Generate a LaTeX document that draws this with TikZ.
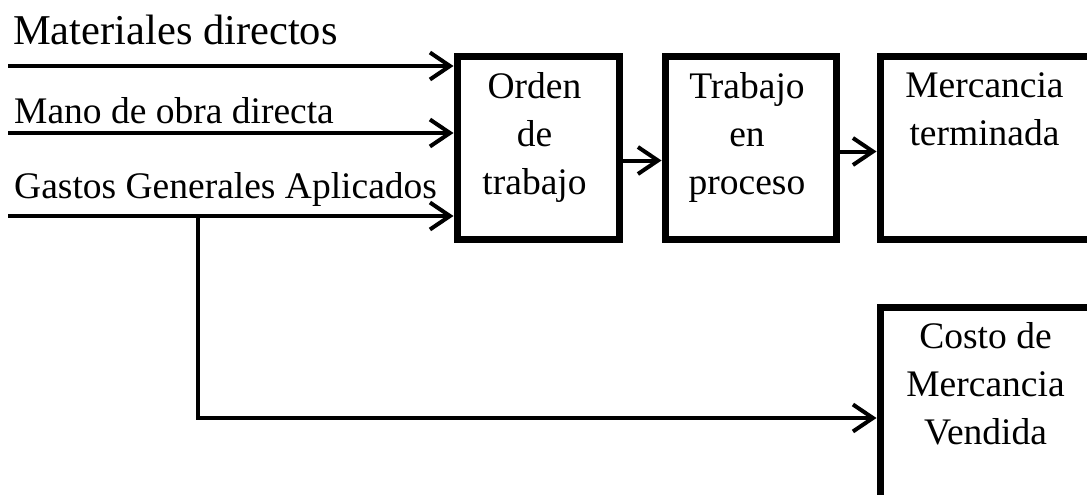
\documentclass[tikz,border=0pt]{standalone}
\usepackage{fontspec}
\setmainfont{Liberation Serif}
\usetikzlibrary{arrows.meta,calc}
\begin{document}
\begin{tikzpicture}[x=1pt,y=-1pt,
  box/.style={draw=black, line width=7pt, inner sep=0pt, anchor=north west},
  boxtext/.style={anchor=north, inner sep=0pt, align=center, font=\fontsize{37.5}{48}\selectfont},
  lab/.style={anchor=base west, inner sep=0pt, font=\fontsize{37.5}{44}\selectfont},
  conn/.style={draw=black, line width=4pt},
  arr/.style={conn, -{Straight Barb[length=20pt, width=27pt, line width=4pt]}}]
\useasboundingbox (0,0) rectangle (1087,495);
\clip (0,0) rectangle (1087,495);
\fill[white] (0,0) rectangle (1087,495);
% boxes
\node[box, minimum width=162pt, minimum height=182pt] (b1) at (453.5,53.5) {};
\node[box, minimum width=171pt, minimum height=182pt] (b2) at (661.5,53.5) {};
\node[box, minimum width=215pt, minimum height=182pt] (b3) at (876.5,53.5) {};
\node[box, minimum width=215pt, minimum height=250pt] (b4) at (876.5,303.5) {};
% box texts
\node[boxtext] (t1) at (534.5,72.5) {Orden\\de\\trabajo};
\node[boxtext] (t2) at (747,72.5) {Trabajo\\en\\proceso};
\node[boxtext] (t3) at (984.5,72.5) {Mercancia\\terminada};
\node[boxtext] (t4) at (985.5,322.5) {Costo de\\Mercancia\\Vendida};
% input labels
\node[lab, font=\fontsize{42.5}{48}\selectfont] (l1) at (13,45) {Materiales directos};
\node[lab] (l2) at (14,123) {Mano de obra directa};
\node[lab] (l3) at (14,198) {Gastos Generales Aplicados};
% input arrows
\coordinate (m1) at (8,66);
\coordinate (m2) at (8,133);
\coordinate (m3) at (8,216);
\coordinate (g1) at (198,216);
\coordinate (g2) at (198,418);
\draw[arr] (m1) -- (m1 -| b1.west);
\draw[arr] (m2) -- (m2 -| b1.west);
\draw[arr] (m3) -- (m3 -| b1.west);
% flow arrows
\coordinate (a1) at ($(b1.east)+(0,12.5)$);
\coordinate (a2) at ($(b2.east)+(0,3.5)$);
\draw[arr] (a1) -- (a1 -| b2.west);
\draw[arr] (a2) -- (a2 -| b3.west);
% overhead to cost of goods sold
\draw[arr] (g1) -- (g2) -- (g2 -| b4.west);
\end{tikzpicture}
\end{document}
